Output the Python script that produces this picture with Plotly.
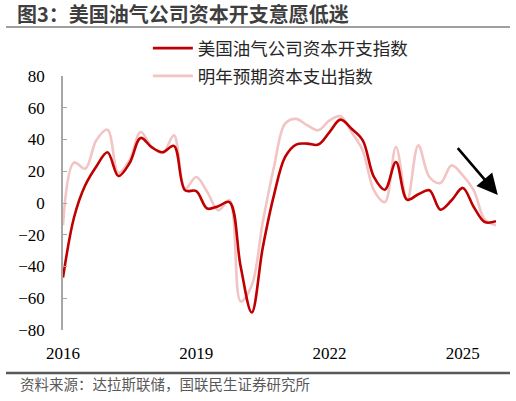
import plotly.graph_objects as go

# quarterly survey readings, Dallas Fed Energy Survey
quarters = [
    "2016-01-01", "2016-04-01", "2016-07-01", "2016-10-01",
    "2017-01-01", "2017-04-01", "2017-07-01", "2017-10-01",
    "2018-01-01", "2018-04-01", "2018-07-01", "2018-10-01",
    "2019-01-01", "2019-04-01", "2019-07-01", "2019-10-01",
    "2020-01-01", "2020-04-01", "2020-07-01", "2020-10-01",
    "2021-01-01", "2021-04-01", "2021-07-01", "2021-10-01",
    "2022-01-01", "2022-04-01", "2022-07-01", "2022-10-01",
    "2023-01-01", "2023-04-01", "2023-07-01", "2023-10-01",
    "2024-01-01", "2024-04-01", "2024-07-01", "2024-10-01",
    "2025-01-01", "2025-04-01", "2025-07-01", "2025-10-01",
]
capex_index = [
    -47, -9, 11, 23, 32, 17, 25, 41, 35, 32,
    36, 8, 7.5, -3.5, -2, 0.6, -40, -69, -28, 5,
    29, 36.8, 37.4, 36.8, 44.7, 52.5, 46.8, 39.5, 16.4, 8.4,
    25.8, 2.1, 5.5, 8, -4.2, 1.7, 9.5, -2.5, -12, -11.5,
]
next_year_capex = [
    -14, 25.5, 21.6, 39.5, 46.2, 19, 27, 44.7, 35.3, 31.5,
    42.6, 9, 16.4, 7, -4.6, 1.7, -62, -52, -12, 22.7,
    50, 53, 49, 45.8, 52, 54.6, 44.7, 33, 8, 0.6,
    35.3, 1.7, 36.3, 16.4, 12.6, 23.7, 17.4, 8, -10.5, -14,
]
year_ticks = ["2016-01-01", "2019-01-01", "2022-01-01", "2025-01-01"]
year_labels = ["2016", "2019", "2022", "2025"]
x_range = ["2016-01-01", "2025-10-01"]

serif = "Liberation Serif"
cjk = "Noto Sans CJK SC"

fig = go.Figure()
fig.add_trace(go.Scatter(
    x=quarters, y=next_year_capex, name="明年预期资本支出指数",
    mode="lines", line=dict(color="#F2C4C4", width=2.6, shape="spline"),
    legendrank=2, legendgroup="b",
))
fig.add_trace(go.Scatter(
    x=quarters, y=capex_index, name="美国油气公司资本开支指数",
    mode="lines", line=dict(color="#C00000", width=2.6, shape="spline"),
    legendrank=1, legendgroup="a",
))

fig.update_layout(
    width=516, height=401,
    margin=dict(l=63, r=20, t=76, b=71, autoexpand=False),
    paper_bgcolor="white", plot_bgcolor="white",
    showlegend=True,
    legend=dict(
        x=0.196, y=1.18, xanchor="left", yanchor="top",
        font=dict(family=cjk, size=17.5, color="#262626"),
        bgcolor="rgba(0,0,0,0)", traceorder="grouped", tracegroupgap=2,
        itemwidth=40,
    ),
    title=dict(
        text="<b>图3：美国油气公司资本开支意愿低迷</b>",
        x=17 / 516, xref="container", xanchor="left",
        y=1 - 15 / 401, yref="container", yanchor="middle",
        font=dict(family=cjk, size=20, color="#3F3F3F"),
    ),
    xaxis=dict(
        type="date", range=x_range,
        tickvals=year_ticks, ticktext=year_labels,
        showgrid=False, showline=False, ticks="", zeroline=False,
        tickfont=dict(family=serif, size=17, color="#000000"),
        ticklabelstandoff=11,
    ),
    xaxis2=dict(
        type="date", range=x_range, overlaying="x", anchor="free", position=0.5,
        tickvals=year_ticks[1:], showticklabels=False,
        showgrid=False, showline=True, linecolor="#A6A6A6", linewidth=1.5,
        ticks="inside", ticklen=4, tickcolor="#A6A6A6", tickwidth=1.2,
    ),
    yaxis=dict(
        range=[-80, 80], tickvals=list(range(-80, 81, 20)),
        showgrid=False, zeroline=False,
        showline=True, linecolor="#A6A6A6", linewidth=1.5,
        ticks="inside", ticklen=4, tickcolor="#A6A6A6", tickwidth=1.2,
        tickfont=dict(family=serif, size=17, color="#000000"),
        ticklabelstandoff=13,
    ),
)

# header rule and footer rule
fig.add_shape(type="line", xref="paper", yref="paper",
              x0=-57 / 433, x1=447 / 433, y0=1 + 49 / 254, y1=1 + 49 / 254,
              line=dict(color="#7F7F7F", width=1.5))
fig.add_shape(type="line", xref="paper", yref="paper",
              x0=-57 / 433, x1=447 / 433, y0=-43 / 254, y1=-43 / 254,
              line=dict(color="#595959", width=2.5))

fig.add_annotation(
    text="资料来源：达拉斯联储，国联民生证券研究所",
    xref="paper", yref="paper", x=-45 / 433, y=-53 / 254,
    xanchor="left", yanchor="middle", showarrow=False,
    font=dict(family=cjk, size=14.5, color="#595959"),
)

# downtrend arrow
fig.add_annotation(
    x="2025-10-16", y=5, ax="2024-11-10", ay=35.5,
    xref="x", yref="y", axref="x", ayref="y",
    showarrow=True, arrowhead=2, arrowsize=1.6, arrowwidth=2.6,
    arrowcolor="#000000", standoff=0, text="",
)

# page body has a default 8px margin; drop it so the figure fills the window
fig.write_html("out.html", config={"displayModeBar": False},
               post_script="document.body.style.margin='0';")
